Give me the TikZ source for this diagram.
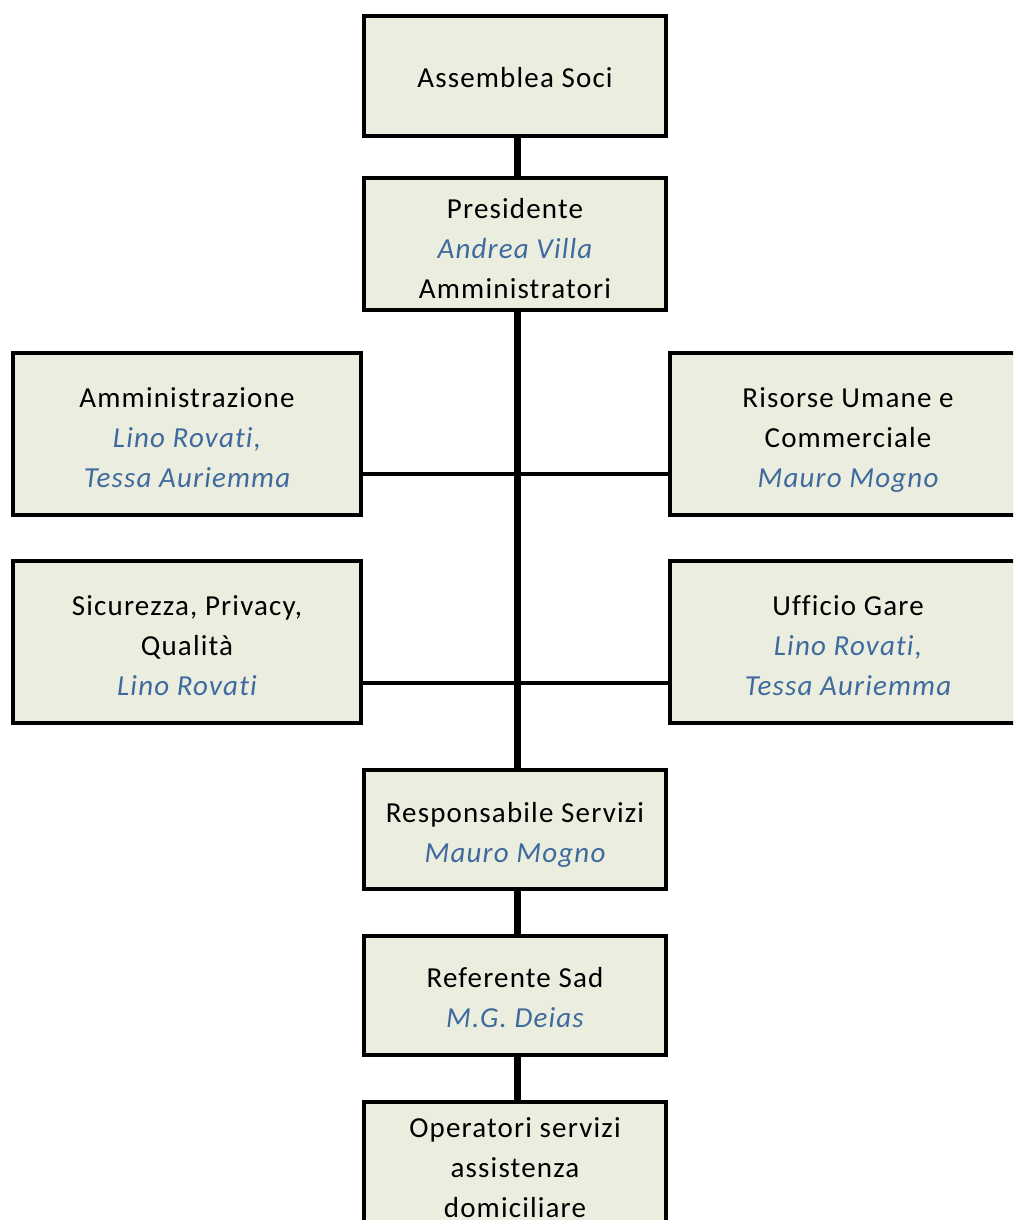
\documentclass[tikz,border=0pt]{standalone}
\usepackage{fontspec}
\setmainfont{Carlito}[LetterSpace=4,Ligatures={NoCommon}]
\definecolor{boxfill}{HTML}{EBEEDE}
\definecolor{nameblue}{HTML}{3F6A9F}
\newcommand{\who}[1]{{\itshape\color{nameblue}#1}}
\newcommand{\orgtext}[2][11pt]{\raisebox{0pt}[\dimexpr\height+#1\relax][\depth]{\begin{tabular}{@{}c@{}}#2\end{tabular}}}
\begin{document}
\begin{tikzpicture}[x=1pt,y=-1pt,
  orgbox/.style={draw=black, line width=4pt, fill=boxfill, inner sep=0pt,
    font=\fontsize{29}{40}\selectfont, text=black},
  midbox/.style={orgbox, minimum width=302pt},
  sidebox/.style={orgbox, minimum width=348pt, minimum height=162pt},
  thick link/.style={line width=7pt},
  thin link/.style={line width=4pt}]
\useasboundingbox (0,0) rectangle (1013,1220);
\clip (0,0) rectangle (1013,1220);
\fill[white] (0,0) rectangle (1013,1220);

\coordinate (h1) at (0,474);
\coordinate (h2) at (0,683);

\node[midbox, minimum height=120pt] (ass) at (515,76) {\orgtext[8pt]{Assemblea Soci}};
\node[midbox, minimum height=124pt] (pres) at (515,244) {\orgtext[12pt]{Presidente\\\who{Andrea Villa}\\Amministratori}};
\node[sidebox] (amm) at (187,434) {\orgtext[10pt]{Amministrazione\\\who{Lino Rovati,}\\\who{Tessa Auriemma}}};
\node[sidebox, minimum width=356pt] (ris) at (848,434) {\orgtext[10pt]{Risorse Umane e\\Commerciale\\\who{Mauro Mogno}}};
\node[sidebox] (sic) at (187,642) {\orgtext[10pt]{Sicurezza, Privacy,\\Qualità\\\who{Lino Rovati}}};
\node[sidebox, minimum width=356pt] (uff) at (848,642) {\orgtext[10pt]{Ufficio Gare\\\who{Lino Rovati,}\\\who{Tessa Auriemma}}};
\node[midbox, minimum height=119pt] (resp) at (515,829.5) {\orgtext[9pt]{Responsabile Servizi\\\who{Mauro Mogno}}};
\node[midbox, minimum height=119pt] (ref) at (515,995.5) {\orgtext[8pt]{Referente Sad\\\who{M.G. Deias}}};
\node[midbox, minimum height=130pt] (op) at (515,1167) {\orgtext[4pt]{Operatori servizi\\assistenza\\domiciliare}};

\draw[thick link] ([xshift=2pt]ass.south) -- ([xshift=2pt]pres.north);
\draw[thick link] ([xshift=2pt]pres.south) -- ([xshift=2pt]resp.north);
\draw[thin link] (amm.east |- h1) -- (ris.west |- h1);
\draw[thin link] (sic.east |- h2) -- (uff.west |- h2);
\draw[thick link] ([xshift=2pt]resp.south) -- ([xshift=2pt]ref.north);
\draw[thick link] ([xshift=2pt]ref.south) -- ([xshift=2pt]op.north);
\end{tikzpicture}
\end{document}
